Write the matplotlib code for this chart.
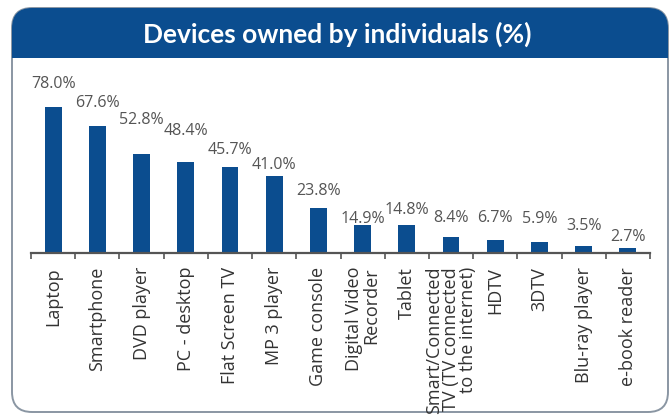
import matplotlib
matplotlib.use("Agg")
import matplotlib.pyplot as plt
from matplotlib.patches import FancyBboxPatch, Rectangle
import numpy as np

devices = ["Laptop", "Smartphone", "DVD player", "PC - desktop", "Flat Screen TV",
           "MP 3 player", "Game console", "Digital Video\nRecorder", "Tablet",
           "Smart/Connected\nTV (TV connected\nto the internet)", "HDTV", "3DTV",
           "Blu-ray player", "e-book reader"]
owned_pct = [78.0, 67.6, 52.8, 48.4, 45.7, 41.0, 23.8, 14.9, 14.8, 8.4, 6.7, 5.9, 3.5, 2.7]

# vertical gap (px) between each bar top and its value label
label_gap = [23, 23, 34, 31, 17, 11, 17, 6, 15, 19, 22, 23, 20, 11]

BLUE = "#0b4d8f"
plt.rcParams["font.family"] = ["Open Sans", "DejaVu Sans"]

W, H = 671, 415
fig = plt.figure(figsize=(W / 100, H / 100), dpi=100)

# rounded frame + header band, drawn in inches, kept behind the axes
box = FancyBboxPatch((0.12, 0.03), 6.56, 4.04, boxstyle="round,pad=0,rounding_size=0.2",
                     transform=fig.dpi_scale_trans, facecolor="white",
                     edgecolor="#8a96a3", linewidth=1.4, zorder=-3)
fig.patches.append(box)
head = FancyBboxPatch((0.12, 3.57), 6.56, 0.50, boxstyle="round,pad=0,rounding_size=0.2",
                      transform=fig.dpi_scale_trans, facecolor=BLUE, edgecolor="none",
                      zorder=-2)
fig.patches.append(head)
fig.patches.append(Rectangle((0.12, 3.57), 6.56, 0.25, transform=fig.dpi_scale_trans,
                             facecolor=BLUE, edgecolor="none", zorder=-2))
fig.text(337 / W, 1 - 34 / H, "Devices owned by individuals (%)", color="white",
         fontsize=19, fontweight="bold", ha="center", va="center", family="Lato")

ax = fig.add_axes([31 / W, 162 / H, 619 / W, 183 / H])
ax.patch.set_alpha(0)
x = np.arange(len(devices))
bars = ax.bar(x, owned_pct, width=0.38, color=BLUE)
ax.set_xlim(-0.5, len(devices) - 0.5)
ax.set_ylim(0, 183 / 1.872)

for spine in ["top", "right", "left"]:
    ax.spines[spine].set_visible(False)
ax.spines["bottom"].set_color("#555555")
ax.spines["bottom"].set_linewidth(1.6)
ax.set_yticks([])

ax.set_xticks(x)
ax.set_xticklabels(devices, rotation=90, va="top", ha="center", multialignment="right",
                   fontsize=13, color="#333333", linespacing=0.9)
ax.tick_params(axis="x", which="major", length=0, pad=10)
ax.set_xticks(np.arange(-0.5, len(devices)), minor=True)
ax.tick_params(axis="x", which="minor", length=4, width=1.2, color="#555555", direction="out")

for b, v, g in zip(bars, owned_pct, label_gap):
    ax.annotate(f"{v:.1f}%", (b.get_x() + b.get_width() / 2, v), xytext=(0, g),
                textcoords="offset pixels", ha="center", va="center",
                fontsize=11.5, color="#555555")

fig.savefig("out.png", dpi=100)
